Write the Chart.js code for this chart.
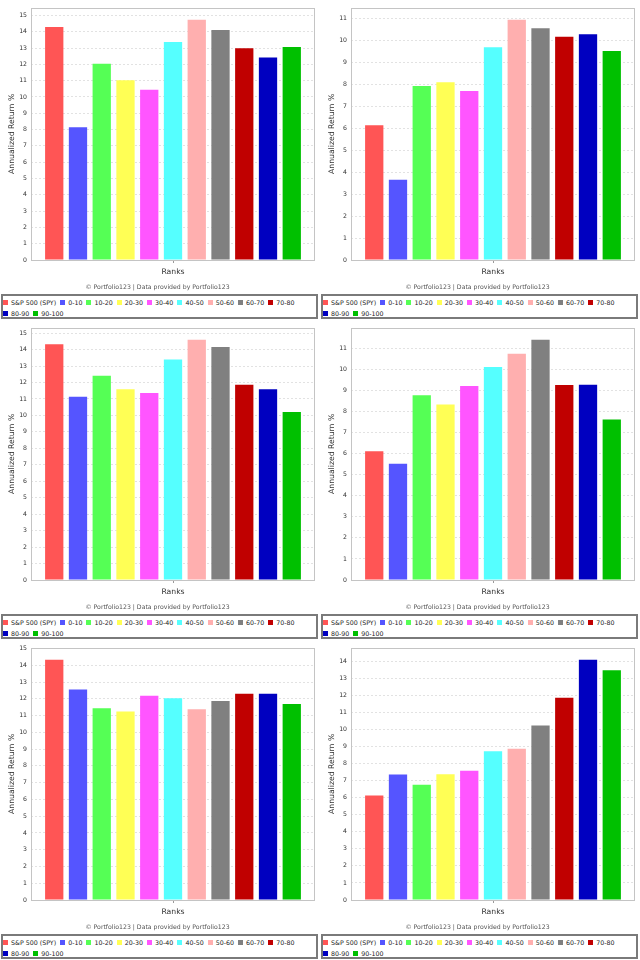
<!DOCTYPE html>
<html>
<head>
<meta charset="utf-8">
<script src="https://cdn.jsdelivr.net/npm/chart.js@4/dist/chart.umd.min.js"></script>
<style>
  html, body { margin: 0; padding: 0; background: #ffffff; }
  #wrap { position: relative; width: 640px; height: 960px; overflow: hidden; }
  .panel { position: absolute; width: 320px; height: 320px; }
  .panel canvas { position: absolute; left: 0; top: 0; }
  .legend {
    position: absolute; left: 1px; top: 294px; width: 317px; height: 25px;
    box-sizing: border-box; border: 2px solid #7a7a7a; padding: 0.5px 0 0 0;
    font-family: "DejaVu Sans", sans-serif; font-size: 6.3px; color: #222;
    line-height: 11px; display: flex; flex-wrap: wrap; align-content: flex-start;
  }
  .legend .item { display: inline-flex; align-items: center; height: 11px; margin-right: 4px; white-space: nowrap; }
  .legend .sw { width: 5px; height: 5px; margin-right: 3px; flex: none; }
</style>
</head>
<body>
<div id="wrap"></div>
<script>
// ---- data ----
const seriesLabels = ['S&P 500 (SPY)', '0-10', '10-20', '20-30', '30-40', '40-50', '50-60', '60-70', '70-80', '80-90', '90-100'];
const panel1Values = [14.30, 8.15, 12.04, 11.03, 10.45, 13.37, 14.74, 14.11, 12.99, 12.42, 13.07];
const panel2Values = [6.13, 3.65, 7.92, 8.09, 7.70, 9.69, 10.94, 10.55, 10.16, 10.28, 9.52];
const panel3Values = [14.32, 11.13, 12.41, 11.59, 11.37, 13.40, 14.60, 14.16, 11.87, 11.59, 10.21];
const panel4Values = [6.12, 5.52, 8.77, 8.34, 9.21, 10.11, 10.75, 11.41, 9.26, 9.27, 7.62];
const panel5Values = [14.33, 12.55, 11.44, 11.24, 12.18, 12.04, 11.38, 11.87, 12.30, 12.30, 11.69];
const panel6Values = [6.12, 7.35, 6.75, 7.37, 7.58, 8.71, 8.87, 10.23, 11.85, 14.08, 13.46];
const categoryLabels = [''];
const xAxisTitle = 'Ranks';
const yAxisTitle = 'Annualized Return %';
const creditText = '\u00A9 Portfolio123 | Data provided by Portfolio123';

// ---- styles ----
const seriesColors = ['#FF5555', '#5555FF', '#55FF55', '#FFFF55', '#FF55FF', '#55FFFF', '#FFAFAF', '#808080', '#C00000', '#0000C0', '#00C000'];
const FONT = '"DejaVu Sans", sans-serif';

const panels = [panel1Values, panel2Values, panel3Values, panel4Values, panel5Values, panel6Values];

const frame = {
  id: 'frame',
  afterDraw(chart) {
    const a = chart.chartArea, ctx = chart.ctx;
    ctx.save();
    ctx.strokeStyle = '#c4c4c4';
    ctx.lineWidth = 1;
    ctx.setLineDash([]);
    ctx.strokeRect(Math.round(a.left) + 0.5, Math.round(a.top) + 0.5, Math.round(a.right - a.left) - 1, Math.round(a.bottom - a.top));
    ctx.restore();
  }
};

const wrap = document.getElementById('wrap');
panels.forEach((vals, i) => {
  const col = i % 2, row = Math.floor(i / 2);
  const p = document.createElement('div');
  p.className = 'panel';
  p.style.left = (col * 320) + 'px';
  p.style.top = (row * 320) + 'px';
  const cv = document.createElement('canvas');
  cv.width = 320; cv.height = 294;
  cv.style.width = '320px'; cv.style.height = '294px';
  p.appendChild(cv);
  const lg = document.createElement('div');
  lg.className = 'legend';
  seriesLabels.forEach((lab, k) => {
    const it = document.createElement('span');
    it.className = 'item';
    const sw = document.createElement('span');
    sw.className = 'sw';
    sw.style.background = seriesColors[k];
    it.appendChild(sw);
    it.appendChild(document.createTextNode(lab));
    lg.appendChild(it);
  });
  p.appendChild(lg);
  wrap.appendChild(p);

  const ymax = Math.max(...vals) * 1.05;
  new Chart(cv, {
    type: 'bar',
    data: {
      labels: categoryLabels,
      datasets: seriesLabels.map((lab, k) => ({
        label: lab,
        data: [vals[k]],
        backgroundColor: seriesColors[k],
        borderWidth: 0,
        categoryPercentage: 0.92,
        barPercentage: 0.77
      }))
    },
    options: {
      responsive: false,
      animation: false,
      devicePixelRatio: 1,
      layout: { padding: { top: 4, right: 5, left: 0, bottom: 0 } },
      plugins: {
        legend: { display: false },
        tooltip: { enabled: false },
        subtitle: {
          display: true, position: 'bottom', text: creditText, color: '#555',
          font: { family: FONT, size: 6.2, weight: 'normal' },
          padding: { top: 2, bottom: 3 }
        }
      },
      scales: {
        x: {
          offset: true,
          grid: { display: true, offset: false, drawOnChartArea: false, drawTicks: true, tickLength: 3, color: '#999' },
          border: { display: false },
          ticks: { display: false },
          title: { display: true, text: xAxisTitle, color: '#333', font: { family: FONT, size: 7.7 }, padding: { top: 0, bottom: 5 } },
          afterFit(s) { s.height = 21.56; }
        },
        y: {
          min: 0, max: ymax,
          grid: { color: '#e2e2e2', lineWidth: 1, drawTicks: false },
          border: { display: false, dash: [2, 2] },
          ticks: { stepSize: 1, includeBounds: false, autoSkip: false, maxTicksLimit: 100, padding: 4, color: '#333', font: { family: FONT, size: 6.2 } },
          title: { display: true, text: yAxisTitle, color: '#333', font: { family: FONT, size: 7.7 }, padding: { top: 7, bottom: 0 } },
          afterFit(s) { s.width = 31; }
        }
      }
    },
    plugins: [frame]
  });
});
</script>
</body>
</html>
